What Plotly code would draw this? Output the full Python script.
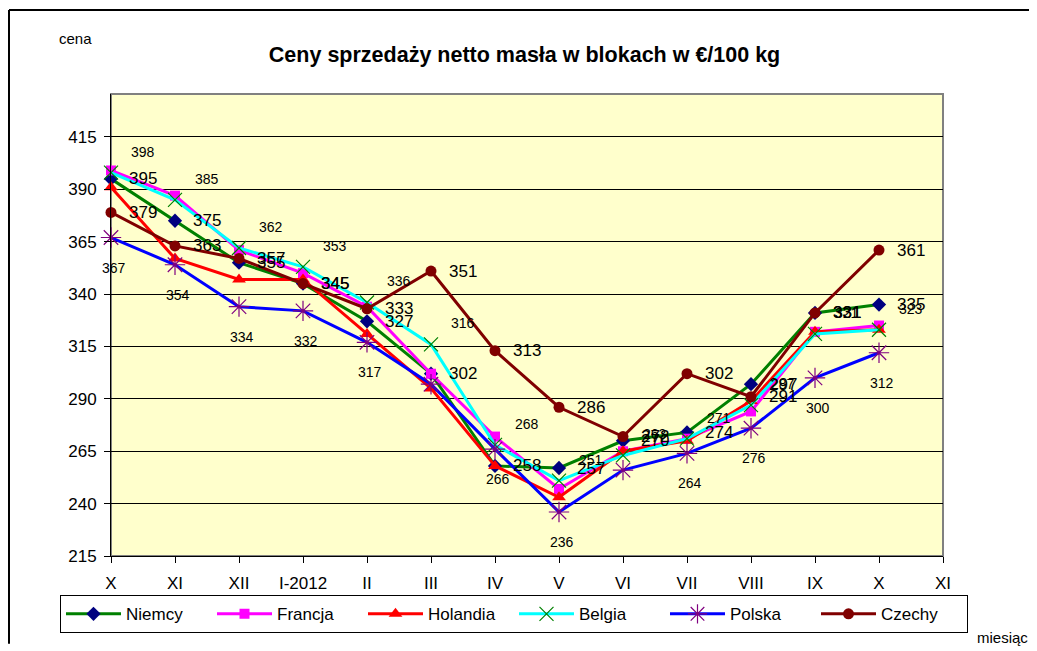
import plotly.graph_objects as go

# ---- data ----
months = ["X", "XI", "XII", "I-2012", "II", "III", "IV", "V", "VI", "VII", "VIII", "IX", "X", "XI"]
series_names = ["Niemcy", "Francja", "Holandia", "Belgia", "Polska", "Czechy"]
niemcy = [395, 375, 355, 345, 327, 302, 258, 257, 270, 274, 297, 331, 335]
francja = [399, 387, 361, 350, 334, 302, 272, 247, 265, 271, 284, 322, 325]
holandia = [391, 357, 347, 347, 321, 295, 258, 243, 265, 270, 289, 322, 323]
belgia = [398, 385, 362, 353, 336, 316, 268, 251, 263, 271, 287, 321, 323]
polska = [367, 354, 334, 332, 317, 297, 266, 236, 256, 264, 276, 300, 312]
czechy = [379, 363, 357, 345, 333, 351, 313, 286, 272, 302, 291, 331, 361]
y_ticks = [215, 240, 265, 290, 315, 340, 365, 390, 415]

# which data points carry a visible value label in the reference
polska_label_shown = [1, 1, 1, 1, 1, 0, 1, 1, 0, 1, 1, 1, 1]

values = [niemcy, francja, holandia, belgia, polska, czechy]

# ---- styles ----
FONT = "Arial, Liberation Sans, sans-serif"
styles = {
    "Niemcy":   dict(line="#008000", mcolor="#000080", symbol="diamond", size=11, mline=0),
    "Francja":  dict(line="#FF00FF", mcolor="#FF00FF", symbol="square", size=10, mline=0),
    "Holandia": dict(line="#FF0000", mcolor="#FF0000", symbol="triangle-up", size=12, mline=0),
    "Belgia":   dict(line="#00FFFF", mcolor="#008000", symbol="x-thin-open", size=14, mline=1.2),
    "Polska":   dict(line="#0000FF", mcolor="#800080", symbol="asterisk-open", size=17, mline=1.2),
    "Czechy":   dict(line="#800000", mcolor="#800000", symbol="circle", size=11, mline=0),
}
# label style per series: (font size, xshift, yshift, xanchor)
label_styles = {
    "Niemcy": (17, 16, 0, "left"),
    "Czechy": (17, 16, 0, "left"),
    "Belgia": (14, 18, 21, "left"),
    "Polska": (14, 3, -30, "center"),
}

x_idx = list(range(len(niemcy)))

fig = go.Figure()
for name, vals in zip(series_names, values):
    st = styles[name]
    marker = dict(symbol=st["symbol"], size=st["size"], color=st["mcolor"])
    if st["mline"]:
        marker["line"] = dict(color=st["mcolor"], width=st["mline"])
    else:
        marker["line"] = dict(width=0)
    fig.add_trace(go.Scatter(
        x=x_idx, y=vals, name=name, mode="lines+markers",
        line=dict(color=st["line"], width=3),
        marker=marker, cliponaxis=False,
    ))

annotations = []
for name, vals in zip(series_names, values):
    if name not in label_styles:
        continue
    fs, xs, ys, xa = label_styles[name]
    for i, (xi, v) in enumerate(zip(x_idx, vals)):
        if name == "Polska" and not polska_label_shown[i]:
            continue
        annotations.append(dict(
            x=xi, y=v, xref="x", yref="y", text=str(v), showarrow=False,
            xanchor=xa, yanchor="middle", xshift=xs, yshift=ys,
            font=dict(family=FONT, size=fs, color="black"),
        ))

annotations.append(dict(text="cena", xref="paper", yref="paper", x=-0.043, y=1.121,
                        showarrow=False, font=dict(family=FONT, size=15, color="black"),
                        xanchor="center", yanchor="middle"))
annotations.append(dict(text="miesiąc", xref="paper", yref="paper", x=1.038, y=-0.176,
                        showarrow=False, font=dict(family=FONT, size=15, color="black"),
                        xanchor="left", yanchor="middle"))

shapes = [
    # plot-area frame (grey)
    dict(type="rect", xref="paper", yref="paper", x0=0, x1=1, y0=0, y1=1,
         line=dict(color="#808080", width=2), fillcolor="rgba(0,0,0,0)", layer="below"),
    # outer chart frame (top, left, right edges)
    dict(type="line", xref="paper", yref="paper", x0=-0.1226, x1=1.105, y0=1.182, y1=1.182,
         line=dict(color="black", width=2), layer="above"),
    dict(type="line", xref="paper", yref="paper", x0=-0.1226, x1=-0.1226, y0=-0.19, y1=1.182,
         line=dict(color="black", width=2), layer="above"),
    dict(type="line", xref="paper", yref="paper", x0=1.105, x1=1.105, y0=-0.09, y1=1.182,
         line=dict(color="black", width=2), layer="above"),
]

fig.update_layout(
    width=1029, height=643,
    margin=dict(l=103, r=94, t=86, b=94.6),
    paper_bgcolor="white", plot_bgcolor="#FFFFCC",
    font=dict(family=FONT, size=17, color="black"),
    title=dict(text="<b>Ceny sprzedaży netto masła w blokach w €/100 kg</b>",
               x=0.502, xref="container", xanchor="center",
               y=0.927, yref="container", yanchor="middle",
               font=dict(family=FONT, size=21.5, color="black")),
    xaxis=dict(range=[0, 13], tickmode="array", tickvals=list(range(len(months))), ticktext=months,
               showgrid=False, zeroline=False, showline=True, linecolor="black", linewidth=1,
               ticks="outside", ticklen=6, tickcolor="black", ticklabelstandoff=6,
               tickfont=dict(family=FONT, size=17)),
    yaxis=dict(range=[215, 435.5], tickmode="array", tickvals=y_ticks,
               showgrid=True, gridcolor="black", gridwidth=1, zeroline=False,
               showline=True, linecolor="black", linewidth=1,
               ticks="outside", ticklen=6, tickcolor="black", ticklabelstandoff=4,
               tickfont=dict(family=FONT, size=17)),
    legend=dict(orientation="h", x=-0.0613, y=-0.085, xanchor="left", yanchor="top",
                bgcolor="white", bordercolor="black", borderwidth=1, itemwidth=55,
                font=dict(family=FONT, size=17), entrywidth=81, entrywidthmode="pixels"),
    annotations=annotations, shapes=shapes,
)

fig.write_html("out.html")
